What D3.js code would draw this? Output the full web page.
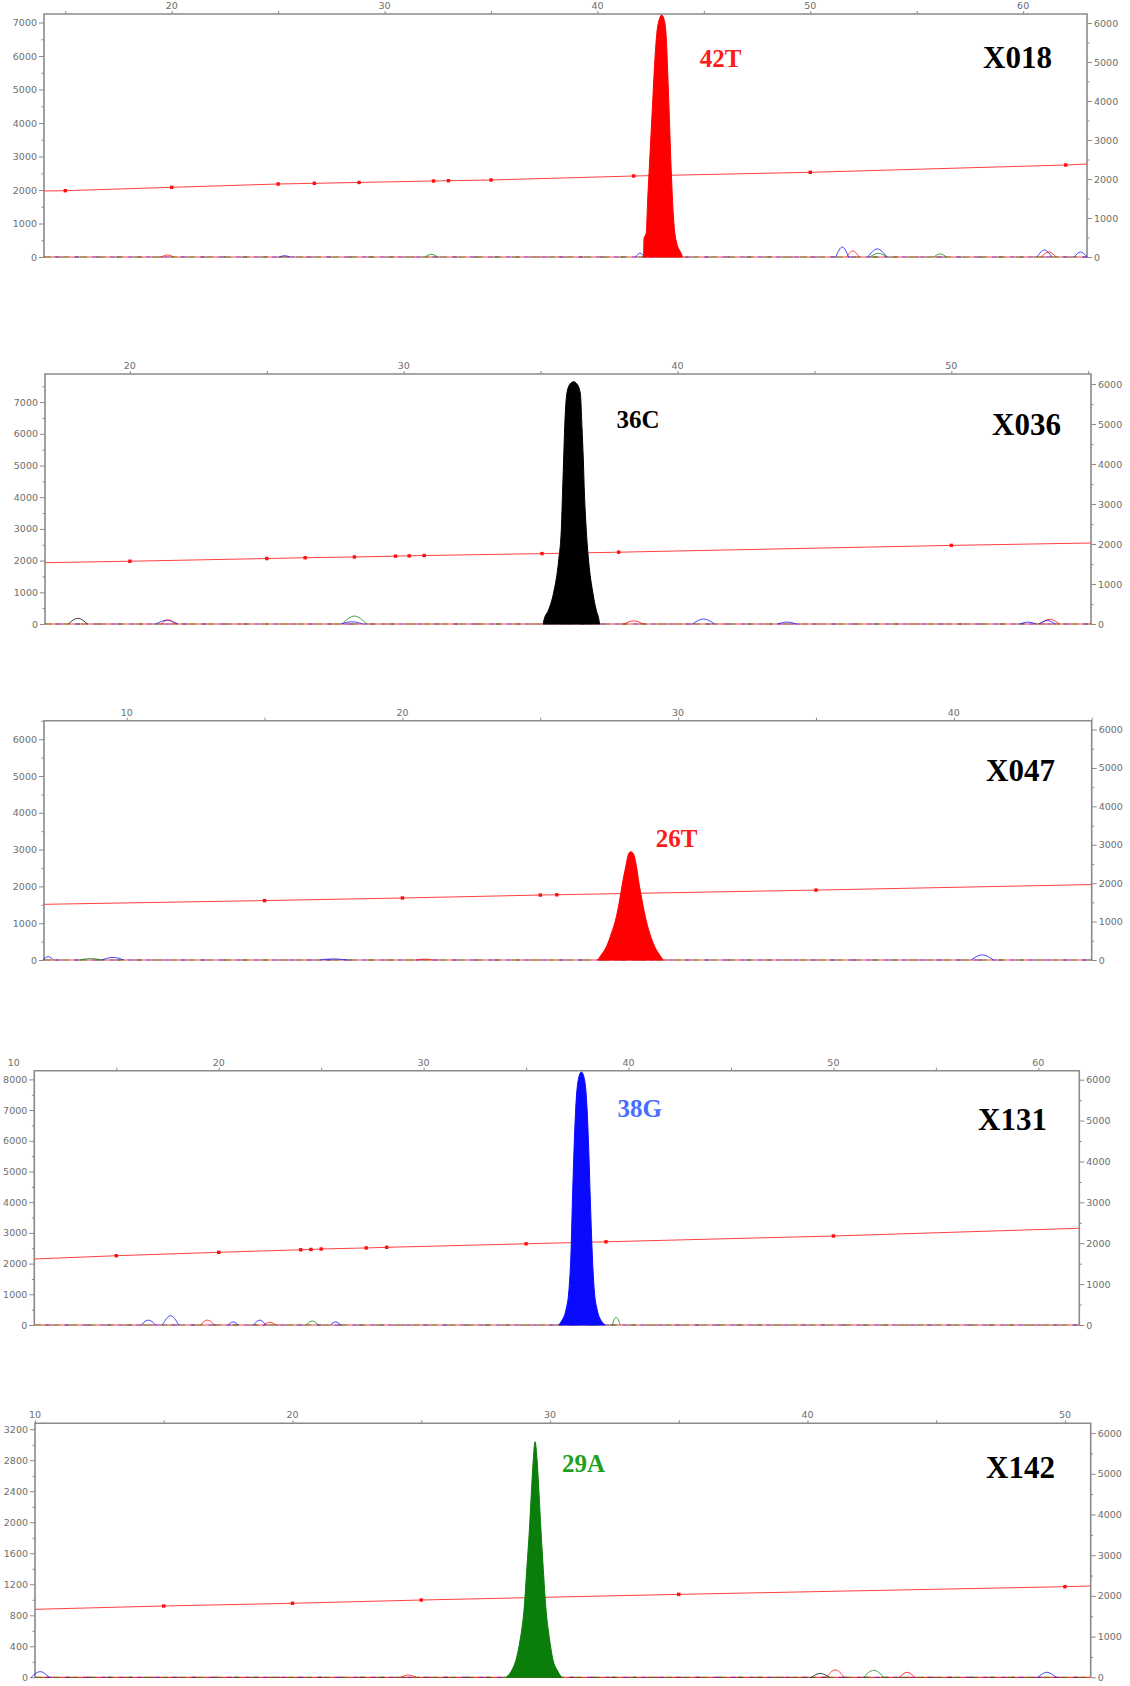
<!DOCTYPE html>
<html><head><meta charset="utf-8">
<script src="https://cdn.jsdelivr.net/npm/d3@7"></script>
<style>body{margin:0;background:#fff}svg{display:block}</style>
</head><body>
<svg id="c" width="1130" height="1686"></svg>
<script>
// ---------- DATA ----------
const sampleNames = ["X018", "X036", "X047", "X131", "X142"];
const callLabels  = ["42T", "36C", "26T", "38G", "29A"];
const peakChannel = ["R", "K", "R", "B", "G"];
const xDomains = [[14, 63], [16.9, 55.1], [7, 45], [11, 62], [10, 51]];
const leftMax  = [7254, 7886, 6503, 8283, 3277];
const leftStep = [1000, 1000, 1000, 1000, 400];
const rightMax = [6230, 6250, 6230, 6220, 6240];
const rightTicks = [0, 1000, 2000, 3000, 4000, 5000, 6000];
const topLabels = [[20,30,40,50,60],[20,30,40,50],[10,20,30,40],[10,20,30,40,50,60],[10,20,30,40,50]];

// peak profiles [position, intensity]
const peak1 = [[42.17,0],[42.19,557],[42.29,706],[42.36,1701],[42.44,2696],[42.52,3692],[42.60,4687],[42.68,5682],[42.79,6677],[42.92,7120],[43.02,7224],[43.12,7120],[43.22,6677],[43.35,4687],[43.46,2696],[43.57,1204],[43.69,507],[43.93,109],[44.0,0]];
const peak2 = [[35.09,0],[35.14,180],[35.29,442],[35.47,968],[35.66,2019],[35.76,3069],[35.80,4123],[35.84,5174],[35.88,6224],[35.96,7278],[36.08,7580],[36.2,7644],[36.32,7580],[36.45,7278],[36.51,6224],[36.56,5174],[36.60,4123],[36.66,3069],[36.75,2019],[36.91,968],[37.03,442],[37.13,126],[37.15,0]];
const peak3 = [[27.09,0],[27.21,136],[27.40,362],[27.58,725],[27.76,1177],[27.88,1630],[27.98,2083],[28.10,2536],[28.2,2880],[28.28,2944],[28.38,2880],[28.49,2536],[28.58,2083],[28.69,1630],[28.81,1177],[28.97,725],[29.15,362],[29.33,136],[29.45,0]];
const peak4 = [[36.6,0],[36.75,150],[36.95,500],[37.1,1200],[37.2,2500],[37.26,4000],[37.33,5500],[37.42,7000],[37.55,8000],[37.7,8240],[37.85,8000],[37.98,7000],[38.07,5500],[38.14,4000],[38.22,2500],[38.32,1200],[38.47,500],[38.66,150],[38.86,0]];
const peak5 = [[28.3,0],[28.5,80],[28.7,250],[28.85,500],[29.0,900],[29.1,1400],[29.2,1900],[29.28,2400],[29.35,2800],[29.42,3039],[29.5,2800],[29.57,2400],[29.65,1900],[29.74,1400],[29.84,900],[29.98,500],[30.1,250],[30.3,80],[30.45,0]];
const peaks = [peak1, peak2, peak3, peak4, peak5];

// sizing-standard line points [position, intensity]
const sizing1 = [[14,1970],[15,1979],[20,2080],[25,2179],[26.7,2200],[28.8,2225],[32.3,2269],[33,2278],[35,2299],[41.7,2418],[50,2528],[62,2746],[63,2776]];
const sizing2 = [[16.9,1934],[20,1980],[25,2065],[26.4,2090],[28.2,2115],[29.7,2140],[30.2,2150],[30.75,2160],[35.05,2220],[37.85,2265],[50,2480],[55.1,2555]];
const sizing3 = [[7,1513],[15,1615],[20,1685],[25,1765],[25.6,1773],[35,1900],[45,2050]];
const sizing4 = [[11,2150],[15,2257],[20,2368],[24,2450],[24.5,2460],[25,2476],[27.2,2510],[28.2,2530],[35,2645],[38.9,2710],[50,2899],[62,3150]];
const sizing5 = [[10,877],[15,920],[20,955],[25,997],[35,1070],[50,1169],[51,1178]];
const sizings = [sizing1, sizing2, sizing3, sizing4, sizing5];

// small baseline bumps [position, half-width, height, channel]
const noise1 = [[19.8,0.3,60,"R"],[25.3,0.25,40,"B"],[32.2,0.3,80,"G"],[42.0,0.2,120,"B"],[51.5,0.3,300,"B"],[52.0,0.3,180,"R"],[53.15,0.45,240,"B"],[53.2,0.4,110,"G"],[56.1,0.3,90,"G"],[61.0,0.35,210,"B"],[61.2,0.35,150,"R"],[62.7,0.3,150,"B"]];
const noise2 = [[18.1,0.35,180,"K"],[21.35,0.4,120,"B"],[21.4,0.25,130,"R"],[28.2,0.45,250,"G"],[28.1,0.4,70,"B"],[38.4,0.35,100,"R"],[40.95,0.4,158,"B"],[44.0,0.35,60,"B"],[52.8,0.3,60,"B"],[53.6,0.35,150,"R"],[53.5,0.3,110,"B"]];
const noise3 = [[7.15,0.2,90,"B"],[8.7,0.4,40,"G"],[9.5,0.4,70,"B"],[17.5,0.5,30,"B"],[20.8,0.3,25,"R"],[41.03,0.4,140,"B"]];
const noise4 = [[16.57,0.35,160,"B"],[17.65,0.4,300,"B"],[19.45,0.35,160,"R"],[20.7,0.25,100,"B"],[22.0,0.3,160,"B"],[22.5,0.3,90,"R"],[24.57,0.3,130,"G"],[25.7,0.25,100,"B"],[39.4,0.2,250,"G"]];
const noise5 = [[10.2,0.35,73,"B"],[24.5,0.3,30,"R"],[40.5,0.35,50,"K"],[41.08,0.35,95,"R"],[42.57,0.4,90,"G"],[43.87,0.3,65,"R"],[49.3,0.35,65,"B"]];
const noises = [noise1, noise2, noise3, noise4, noise5];

// ---------- STYLE / LAYOUT ----------
const channelColor = {R:"#ff0000", G:"#0a7d0a", B:"#0a0aff", K:"#000000"};
const labelColor = ["#ff1a1a", "#000000", "#ff1a1a", "#4a6cff", "#1f9f1f"];
const layout = [
  {l:44,   r:1087,   t:14,     b:257,    labDx:38, labY:66.7,  nameX:1052, nameY:68.3},
  {l:45,   r:1091,   t:374,    b:624,    labDx:43, labY:428,   nameX:1061, nameY:435},
  {l:44,   r:1091.7, t:720.7,  b:960,    labDx:25, labY:846.7, nameX:1055, nameY:781},
  {l:34.3, r:1079.3, t:1070.7, b:1325,   labDx:36, labY:1117,  nameX:1047, nameY:1130},
  {l:35,   r:1090.7, t:1423.3, b:1677.3, labDx:27, labY:1472,  nameX:1055, nameY:1478}
];
const axisColor = "#8a8a8a";
const tickColor = "#6e6e6e";
const tickFont = "DejaVu Sans, sans-serif";
const serif = "'Liberation Serif','Times New Roman',serif";

const svg = d3.select("#c");
svg.append("rect").attr("width",1130).attr("height",1686).attr("fill","#fff");

sampleNames.forEach((name, i) => {
  const L = layout[i];
  const x  = d3.scaleLinear().domain(xDomains[i]).range([L.l, L.r]);
  const yL = d3.scaleLinear().domain([0, leftMax[i]]).range([L.b, L.t]);
  const yR = d3.scaleLinear().domain([0, rightMax[i]]).range([L.b, L.t]);
  const g = svg.append("g");

  // ---- axes ----
  const step = leftStep[i];
  const leftMajor = d3.range(0, leftMax[i] + 1, step);
  const leftMinor = d3.range(step/2, leftMax[i], step);
  const styleAxis = sel => {
    sel.select(".domain").remove();
    sel.selectAll(".tick line").attr("stroke", axisColor).attr("stroke-width", 1);
    sel.selectAll(".tick text").attr("fill", tickColor).attr("font-size", 9.5).attr("font-family", tickFont);
  };
  g.append("g").attr("transform", `translate(${L.l},0)`)
    .call(d3.axisLeft(yL).tickValues(leftMajor).tickSize(5).tickPadding(2).tickFormat(d3.format("d")))
    .call(styleAxis);
  g.append("g").attr("transform", `translate(${L.l},0)`)
    .call(d3.axisLeft(yL).tickValues(leftMinor).tickSize(2.5).tickFormat(""))
    .call(styleAxis);
  g.append("g").attr("transform", `translate(${L.r},0)`)
    .call(d3.axisRight(yR).tickValues(rightTicks).tickSize(5).tickPadding(2).tickFormat(d3.format("d")))
    .call(styleAxis);
  g.append("g").attr("transform", `translate(${L.r},0)`)
    .call(d3.axisRight(yR).tickValues(d3.range(500, rightMax[i], 1000)).tickSize(2.5).tickFormat(""))
    .call(styleAxis);
  const xd = xDomains[i];
  const topTicks = d3.range(Math.ceil(xd[0]/5)*5, xd[1] + 0.001, 5);
  g.append("g").attr("transform", `translate(0,${L.t})`)
    .call(d3.axisTop(x).tickValues(topTicks).tickSize(3).tickFormat(""))
    .call(styleAxis);
  g.selectAll("text.toplab").data(topLabels[i]).join("text")
    .attr("class","toplab")
    .attr("x", d => x(d)).attr("y", L.t - 5)
    .attr("text-anchor","middle").attr("fill", tickColor)
    .attr("font-size", 9.5).attr("font-family", tickFont)
    .text(d => d);
  // frame (left, top, right)
  g.append("path")
    .attr("d", `M${L.l},${L.b}V${L.t}H${L.r}V${L.b}`)
    .attr("fill","none").attr("stroke", axisColor).attr("stroke-width", 1.6);

  // ---- baseline traces ----
  const base = [[xd[0],0],[xd[1],0]];
  const lineL = d3.line().x(d => x(d[0])).y(d => yL(d[1]));
  g.append("path").attr("d", lineL(base)).attr("stroke", channelColor.R).attr("stroke-width",1.2).attr("fill","none").attr("opacity",0.75);
  g.append("path").attr("d", lineL(base)).attr("stroke", channelColor.G).attr("stroke-width",1.2).attr("fill","none").attr("stroke-dasharray","7 11").attr("opacity",0.6);
  g.append("path").attr("d", lineL(base)).attr("stroke", channelColor.B).attr("stroke-width",1.2).attr("fill","none").attr("stroke-dasharray","5 13").attr("stroke-dashoffset",6).attr("opacity",0.5);
  g.append("path").attr("d", lineL(base)).attr("stroke", "#333").attr("stroke-width",1.2).attr("fill","none").attr("stroke-dasharray","4 17").attr("stroke-dashoffset",11).attr("opacity",0.5);

  // ---- bumps ----
  const bumpLine = d3.line().x(d => x(d[0])).y(d => yL(d[1])).curve(d3.curveMonotoneX);
  g.selectAll("path.bump").data(noises[i]).join("path")
    .attr("class","bump")
    .attr("d", d => bumpLine([[d[0]-d[1],0],[d[0],d[2]],[d[0]+d[1],0]]))
    .attr("fill","none").attr("stroke", d => channelColor[d[3]])
    .attr("stroke-width", 1).attr("opacity", 0.75);

  // ---- sizing line ----
  g.append("path").attr("d", lineL(sizings[i]))
    .attr("fill","none").attr("stroke","#ff4040").attr("stroke-width",1);
  g.selectAll("rect.mk").data(sizings[i].slice(1, -1)).join("rect")
    .attr("class","mk")
    .attr("x", d => x(d[0]) - 1.7).attr("y", d => yL(d[1]) - 1.7)
    .attr("width", 3.4).attr("height", 3.4).attr("fill","#ff1010");

  // ---- main peak ----
  const col = channelColor[peakChannel[i]];
  const area = d3.area().x(d => x(d[0])).y0(yL(0)).y1(d => yL(d[1])).curve(d3.curveMonotoneX);
  g.append("path").attr("d", area(peaks[i])).attr("fill", col).attr("stroke", col).attr("stroke-width", 1);

  // ---- labels ----
  const top = peaks[i].reduce((a, b) => b[1] > a[1] ? b : a);
  g.append("text").attr("x", x(top[0]) + L.labDx).attr("y", L.labY)
    .attr("font-family", serif).attr("font-weight","bold").attr("font-size", 25)
    .attr("fill", labelColor[i]).text(callLabels[i]);
  g.append("text").attr("x", L.nameX).attr("y", L.nameY).attr("text-anchor","end")
    .attr("font-family", serif).attr("font-weight","bold").attr("font-size", 31)
    .attr("fill", "#000").text(name);
});
</script>
</body></html>
